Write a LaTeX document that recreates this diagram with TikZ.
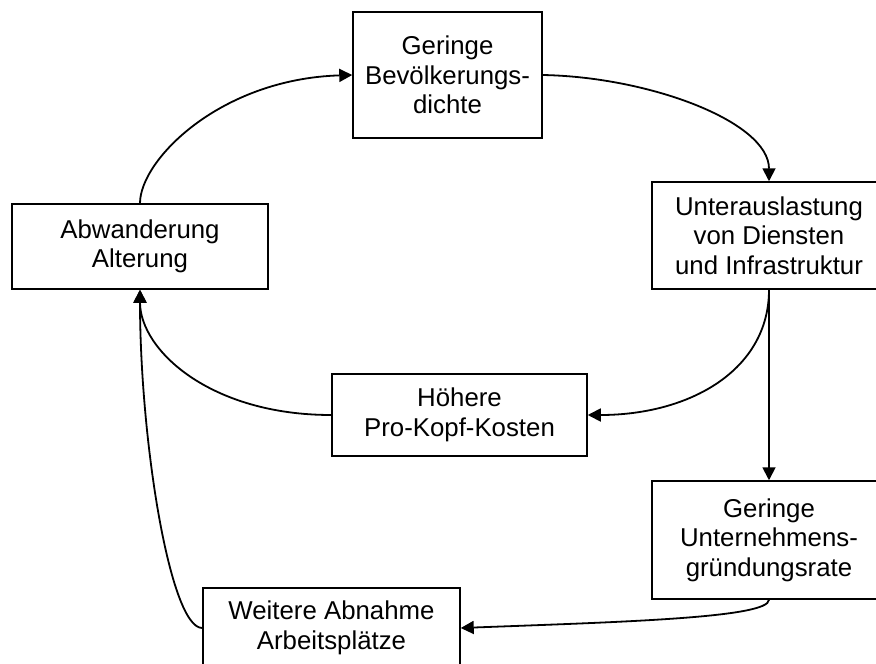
\documentclass[tikz,border=0pt]{standalone}
\usepackage{fontspec}
\setmainfont{Liberation Sans}
\usetikzlibrary{arrows.meta}

\begin{document}
\begin{tikzpicture}[
  x = 1pt, y = -1pt,
  every node/.style = {font=\fontsize{25.8}{29.5}\selectfont},
  box/.style = {rectangle, draw, line width=1.5pt, align=center, inner sep=0pt},
  arr/.style = {-{Triangle[length=13pt,width=13pt]}, line width=1.8pt},
]
\useasboundingbox (0,0) rectangle (876,664);

% ── Boxes ────────────────────────────────────────────────────
\node[box, minimum width=189pt, minimum height=126pt] (dichte)  at (447.5,75)
  {Geringe\\Bevölkerungs-\\dichte};
\node[box, minimum width=234pt, minimum height=107pt] (unter)   at (769,235.5)
  {Unterauslastung\\von Diensten\\und Infrastruktur};
\node[box, minimum width=256pt, minimum height=85pt]  (abw)     at (140,246.5)
  {Abwanderung\\Alterung};
\node[box, minimum width=255pt, minimum height=82pt]  (kosten)  at (459.5,415)
  {Höhere\\Pro-Kopf-Kosten};
\node[box, minimum width=234pt, minimum height=118pt] (gruend)  at (769,540)
  {Geringe\\Unternehmens-\\gründungsrate};
\node[box, minimum width=257pt, minimum height=80pt]  (weitere) at (331.5,628)
  {Weitere Abnahme\\Arbeitsplätze};

% ── Outer cycle ──────────────────────────────────────────────
\draw[arr] (abw.north) .. controls (140,160) and (220,79) .. (dichte.west);
\draw[arr] (dichte.east) .. controls (650,77) and (769,122) .. (unter.north);

% ── Inner branch ─────────────────────────────────────────────
\draw[arr] (unter.south) .. controls (769,370) and (690,415) .. (kosten.east);
\draw[arr] (kosten.west) .. controls (210,415) and (140,350) .. (abw.south);

% ── Lower branch ─────────────────────────────────────────────
\draw[arr] (unter.south) -- (gruend.north);
\draw[arr] (gruend.south) .. controls (769,618) and (620,622) .. (weitere.east);
\draw[arr] (weitere.west) .. controls (170,628) and (140,440) .. (abw.south);

\end{tikzpicture}
\end{document}
